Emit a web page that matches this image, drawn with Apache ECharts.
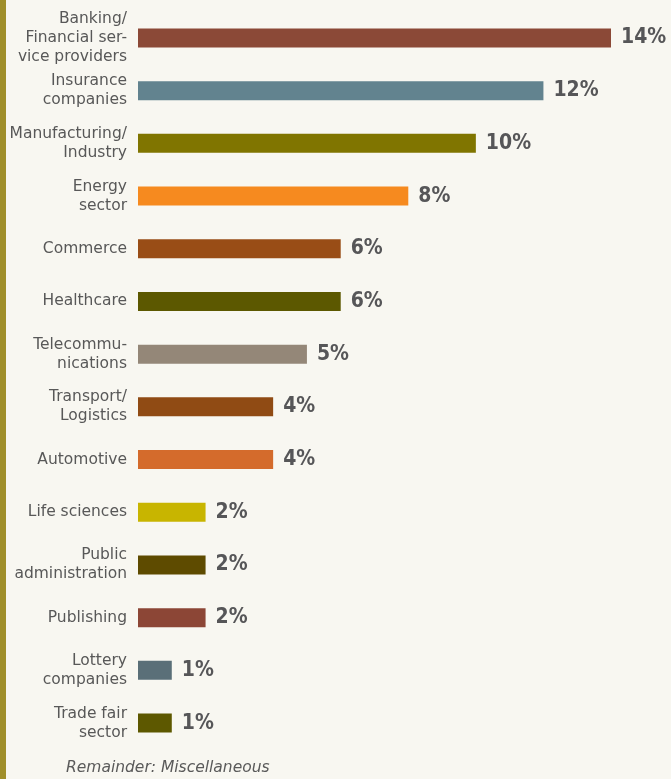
<!DOCTYPE html>
<html>
<head>
<meta charset="utf-8">
<script src="https://cdn.jsdelivr.net/npm/echarts@6/dist/echarts.min.js"></script>
<style>
  html, body { margin: 0; padding: 0; background: #f8f7f1; }
  #chart { width: 671px; height: 779px; }
</style>
</head>
<body>
<div id="chart"></div>
<script>
// Sectors, share in percent, and bar colours
const sectors = [
  'Banking/\nFinancial ser-\nvice providers',
  'Insurance\ncompanies',
  'Manufacturing/\nIndustry',
  'Energy\nsector',
  'Commerce',
  'Healthcare',
  'Telecommu-\nnications',
  'Transport/\nLogistics',
  'Automotive',
  'Life sciences',
  'Public\nadministration',
  'Publishing',
  'Lottery\ncompanies',
  'Trade fair\nsector'
];
const shares = [14, 12, 10, 8, 6, 6, 5, 4, 4, 2, 2, 2, 1, 1];
const barColors = [
  '#8b4937', '#62838f', '#807500', '#f68a1f', '#994d16', '#5c5800', '#948778',
  '#904b14', '#d46b2c', '#c8b500', '#5e4b00', '#8c4636', '#5a6f78', '#5d5800'
];
const footnote = 'Remainder: Miscellaneous';

const chart = echarts.init(document.getElementById('chart'));

chart.setOption({
  backgroundColor: '#f8f7f1',
  animation: false,
  grid: { left: 138, right: 60, top: 11.6, bottom: 29.6, containLabel: false },
  xAxis: {
    type: 'value', min: 0, max: 14,
    show: false
  },
  yAxis: {
    type: 'category',
    data: sectors,
    inverse: true,
    axisLine: { show: false },
    axisTick: { show: false },
    splitLine: { show: false },
    axisLabel: {
      margin: 11,
      color: '#585858',
      fontFamily: 'DejaVu Sans',
      fontSize: 15.5,
      lineHeight: 19,
      align: 'right'
    }
  },
  series: [{
    type: 'bar',
    barWidth: 19,
    data: shares.map((v, i) => ({ value: v, itemStyle: { color: barColors[i] } })),
    label: {
      show: true,
      position: 'right',
      distance: 10,
      formatter: '{c}%',
      color: '#565658',
      fontFamily: 'DejaVu Sans Condensed, DejaVu Sans',
      fontWeight: 'bold',
      fontSize: 21
    }
  }],
  graphic: [
    {
      type: 'rect',
      shape: { x: 0, y: 0, width: 6, height: 779 },
      style: { fill: '#a08f2b' }
    },
    {
      type: 'text',
      x: 66, y: 768,
      style: {
        text: footnote,
        fill: '#5a5a5a',
        font: 'italic 15.5px "DejaVu Sans"',
        textVerticalAlign: 'middle'
      }
    }
  ]
});
</script>
</body>
</html>
